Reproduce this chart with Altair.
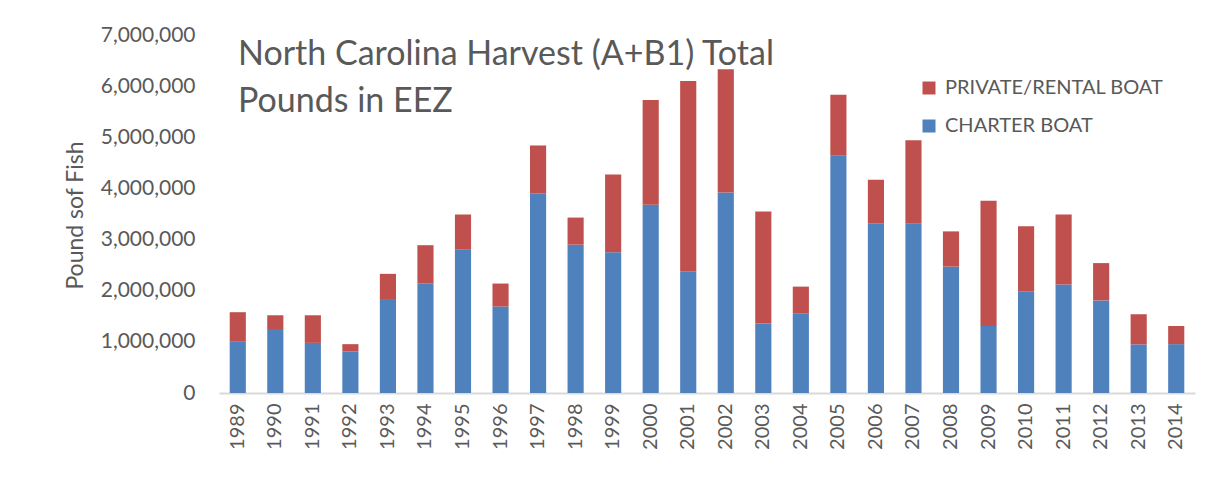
import altair as alt
import pandas as pd

years = [str(y) for y in range(1989, 2015)]
charter = [1010000, 1250000, 980000, 810000, 1820000, 2140000, 2810000, 1690000,
           3900000, 2900000, 2750000, 3680000, 2380000, 3920000, 1360000, 1550000,
           4640000, 3310000, 3310000, 2470000, 1310000, 1990000, 2120000, 1810000,
           950000, 955000]
totals = [1580000, 1520000, 1520000, 955000, 2330000, 2890000, 3490000, 2140000,
          4840000, 3430000, 4270000, 5730000, 6100000, 6330000, 3550000, 2080000,
          5830000, 4170000, 4940000, 3160000, 3760000, 3260000, 3490000, 2540000,
          1540000, 1310000]
private = [t - c for t, c in zip(totals, charter)]

series = ["PRIVATE/RENTAL BOAT", "CHARTER BOAT"]
colors = ["#c0504d", "#4f81bd"]
title_lines = "North Carolina Harvest (A+B1) Total\nPounds in EEZ"
y_ticks = [0, 1000000, 2000000, 3000000, 4000000, 5000000, 6000000, 7000000]

rows = []
for i, y in enumerate(years):
    rows.append({"Year": y, "Type": "CHARTER BOAT", "Pounds": charter[i], "ord": 0})
    rows.append({"Year": y, "Type": "PRIVATE/RENTAL BOAT", "Pounds": private[i], "ord": 1})
df = pd.DataFrame(rows)

FONT = "Lato"
GRAY = "#595959"

bars = alt.Chart(df).mark_bar().encode(
    x=alt.X("Year:N", sort=years,
            scale=alt.Scale(paddingInner=0.57, paddingOuter=0.285),
            axis=alt.Axis(title=None, labelAngle=270, ticks=False, labelPadding=10,
                          labelFont=FONT, labelFontSize=20, labelColor=GRAY,
                          domainColor="#d9d9d9", domainWidth=2, grid=False)),
    y=alt.Y("Pounds:Q", stack="zero",
            scale=alt.Scale(domain=[0, 7000000], nice=False),
            axis=alt.Axis(title="Pound sof Fish", values=y_ticks, format=",d",
                          ticks=False, domain=False, grid=False, labelPadding=24,
                          labelFont=FONT, labelFontSize=21, labelColor=GRAY,
                          titleFont=FONT, titleFontSize=23, titleColor=GRAY,
                          titleFontWeight="normal", titleX=-144, titleY=180,
                          titleBaseline="middle", titleAngle=270)),
    color=alt.Color("Type:N", scale=alt.Scale(domain=series, range=colors),
                    legend=alt.Legend(title=None, orient="none", legendX=700, legendY=43,
                                      symbolType="square", symbolSize=169,
                                      symbolStrokeWidth=0, labelFont=FONT,
                                      labelFontSize=20, labelColor=GRAY, labelLimit=400,
                                      labelOffset=6, rowPadding=18)),
    order=alt.Order("ord:Q", sort="ascending"),
)

title = alt.Chart(pd.DataFrame({"t": [title_lines]})).mark_text(
    align="left", baseline="alphabetic", font=FONT, fontSize=34, color=GRAY,
    lineBreak="\n", lineHeight=47
).encode(x=alt.value(19), y=alt.value(30), text="t:N")

border = alt.Chart(pd.DataFrame({"a": [0]})).mark_rule(color="#d0d0d0", strokeWidth=1.5).encode(
    x=alt.value(-213), y=alt.value(-35), y2=alt.value(450)
)

chart = alt.layer(bars, title, border).properties(
    width=976, height=358,
    autosize=alt.AutoSizeParams(type="none"),
    padding={"left": 211, "top": 27, "right": 3, "bottom": 85},
    background="white",
).configure_view(stroke=None)

chart.save("out.html", embed_options={"renderer": "svg", "actions": False})
